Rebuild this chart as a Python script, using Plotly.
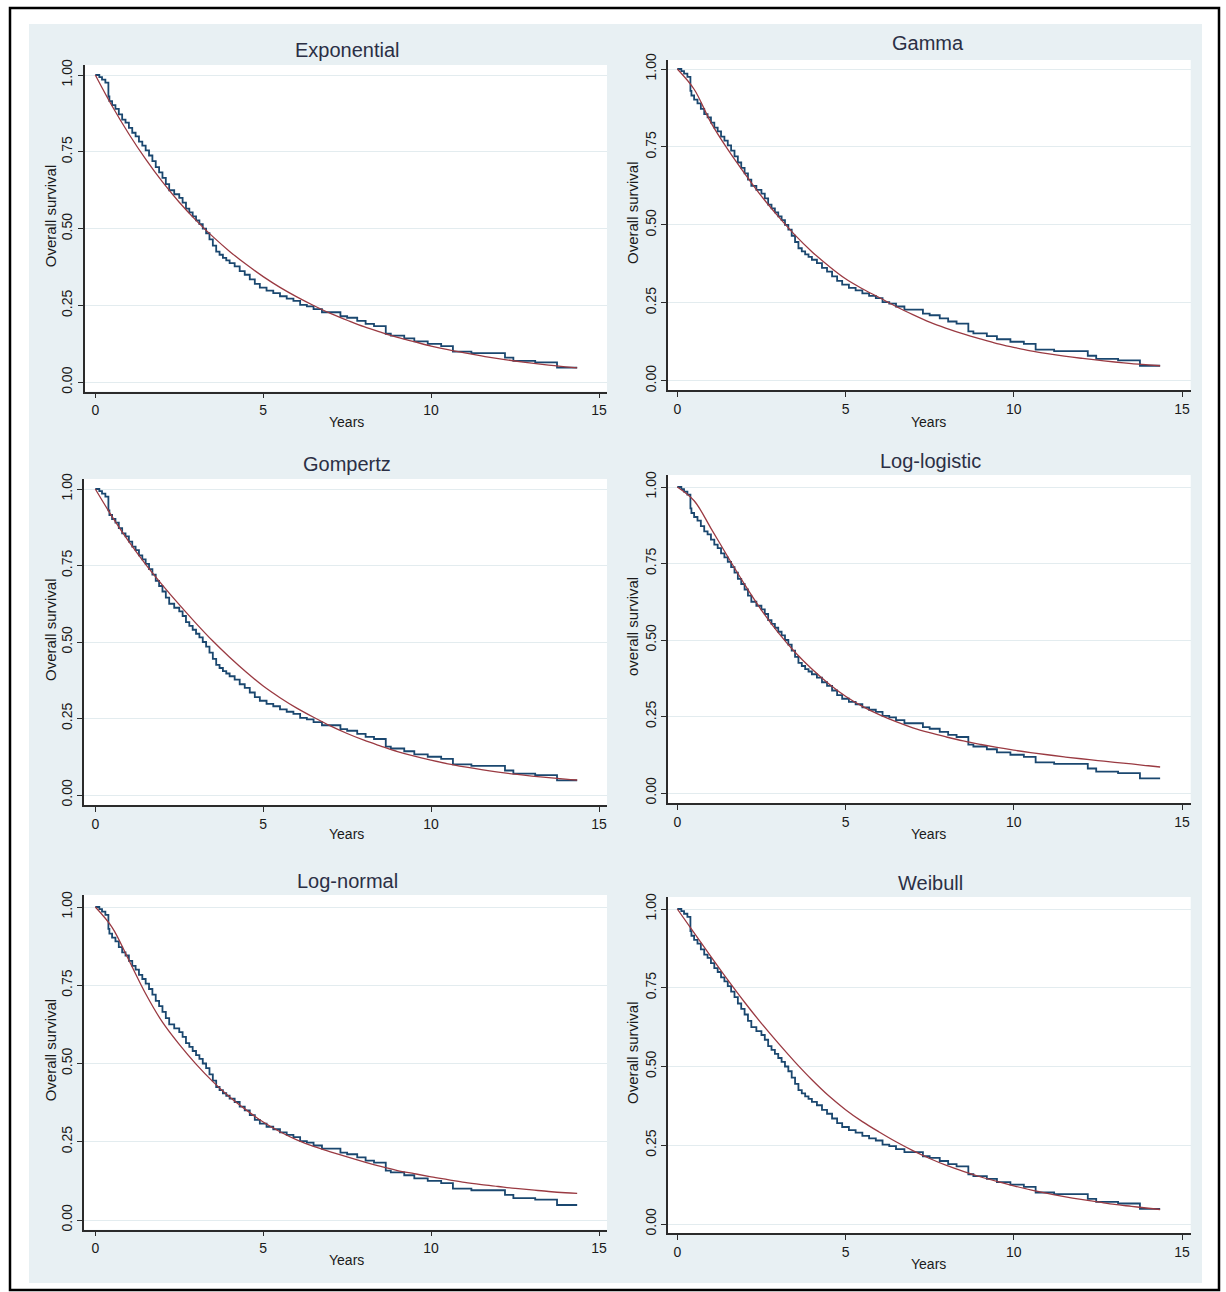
import plotly.graph_objects as go

W, H = 1226, 1292

# ---------------- data ----------------
# Kaplan-Meier estimate (same in every panel): step times (years) and survival after each step
km_time = [0, 0.12, 0.2, 0.3, 0.39, 0.42, 0.5, 0.6, 0.7, 0.8, 0.9, 1.0, 1.1, 1.2, 1.3, 1.4,
           1.5, 1.6, 1.7, 1.8, 1.9, 2.0, 2.1, 2.2, 2.35, 2.5, 2.6, 2.7, 2.8, 2.9, 3.0, 3.1,
           3.2, 3.3, 3.4, 3.5, 3.6, 3.7, 3.8, 3.9, 4.0, 4.15, 4.3, 4.45, 4.6, 4.75, 4.9,
           5.1, 5.3, 5.5, 5.7, 5.9, 6.1, 6.3, 6.5, 6.75, 7.3, 7.5, 7.8, 8.05, 8.3, 8.65,
           8.8, 9.2, 9.5, 9.9, 10.3, 10.65, 11.2, 12.2, 12.45, 13.1, 13.75, 14.35]
km_surv = [1.0, 0.993, 0.985, 0.975, 0.93, 0.915, 0.902, 0.89, 0.872, 0.855, 0.845, 0.828,
           0.812, 0.80, 0.783, 0.77, 0.755, 0.738, 0.72, 0.70, 0.683, 0.665, 0.645, 0.625,
           0.612, 0.60, 0.585, 0.565, 0.553, 0.54, 0.527, 0.515, 0.50, 0.485, 0.465, 0.445,
           0.425, 0.415, 0.405, 0.397, 0.388, 0.377, 0.362, 0.35, 0.335, 0.32, 0.308, 0.298,
           0.29, 0.28, 0.272, 0.265, 0.252, 0.247, 0.238, 0.228, 0.215, 0.21, 0.20, 0.19,
           0.183, 0.158, 0.152, 0.143, 0.133, 0.125, 0.118, 0.10, 0.095, 0.08, 0.07, 0.065,
           0.048, 0.048]

# fitted parametric survival curves
fit_time = [0, 0.5, 1, 1.5, 2, 2.5, 3, 3.5, 4, 4.5, 5, 5.5, 6, 6.5, 7, 7.5, 8, 8.5, 9, 9.5,
            10, 10.5, 11, 11.5, 12, 12.5, 13, 13.5, 14, 14.35]
exponential_fit = [1, 0.899, 0.808, 0.726, 0.652, 0.586, 0.527, 0.474, 0.426, 0.383, 0.344,
                   0.309, 0.278, 0.250, 0.224, 0.202, 0.181, 0.163, 0.146, 0.132, 0.118,
                   0.106, 0.0955, 0.0858, 0.0771, 0.0693, 0.0623, 0.056, 0.0503, 0.0467]
gamma_fit = [1, 0.935, 0.828, 0.742, 0.665, 0.592, 0.527, 0.467, 0.414, 0.368, 0.327,
             0.295, 0.267, 0.238, 0.212, 0.188, 0.168, 0.15, 0.134, 0.119, 0.107,
             0.096, 0.087, 0.079, 0.072, 0.066, 0.06, 0.055, 0.051, 0.048]
gompertz_fit = [1, 0.91, 0.828, 0.754, 0.686, 0.622, 0.561, 0.503, 0.45, 0.401, 0.356,
                0.318, 0.284, 0.254, 0.226, 0.201, 0.179, 0.16, 0.142, 0.127, 0.114,
                0.102, 0.092, 0.083, 0.075, 0.068, 0.062, 0.057, 0.052, 0.049]
loglogistic_fit = [1, 0.955, 0.865, 0.772, 0.682, 0.598, 0.524, 0.46, 0.405, 0.357, 0.316,
                   0.283, 0.256, 0.233, 0.213, 0.197, 0.183, 0.17, 0.159, 0.149, 0.14,
                   0.132, 0.125, 0.118, 0.112, 0.106, 0.1, 0.095, 0.089, 0.085]
lognormal_fit = [1, 0.935, 0.83, 0.723, 0.632, 0.561, 0.498, 0.442, 0.393, 0.351, 0.313,
                 0.282, 0.256, 0.235, 0.218, 0.202, 0.186, 0.171, 0.158, 0.148, 0.138,
                 0.129, 0.12, 0.113, 0.107, 0.101, 0.096, 0.091, 0.087, 0.085]
weibull_fit = [1, 0.924, 0.849, 0.775, 0.704, 0.637, 0.574, 0.514, 0.458, 0.407, 0.363,
               0.325, 0.292, 0.261, 0.233, 0.208, 0.186, 0.167, 0.15, 0.135, 0.121,
               0.108, 0.097, 0.087, 0.078, 0.07, 0.062, 0.056, 0.05, 0.046]

panel_titles = ["Exponential", "Gamma", "Gompertz", "Log-logistic", "Log-normal", "Weibull"]
y_titles = ["Overall survival", "Overall survival", "Overall survival",
            "overall survival", "Overall survival", "Overall survival"]
x_title = "Years"
x_ticks = [0, 5, 10, 15]
y_ticks = [0, 0.25, 0.5, 0.75, 1.0]
y_tick_labels = ["0.00", "0.25", "0.50", "0.75", "1.00"]

fits = [exponential_fit, gamma_fit, gompertz_fit, loglogistic_fit, lognormal_fit, weibull_fit]

# ---------------- layout geometry (pixels) ----------------
# left edge, x of 0 yrs, x of 15 yrs, right edge, top edge, y of 1.00, y of 0.00, bottom edge
boxes = [
    (84.5, 95.3, 599.0, 607.0, 65, 75, 382.3, 391.5),
    (668.0, 677.3, 1182.0, 1190.7, 60, 69, 380.7, 390.0),
    (84.0, 95.3, 599.0, 607.0, 479, 489, 795.0, 805.0),
    (668.0, 677.3, 1182.0, 1190.7, 475, 487, 793.0, 803.0),
    (84.0, 95.3, 599.0, 607.0, 895, 907, 1220.0, 1229.7),
    (668.0, 677.3, 1182.0, 1190.7, 897, 909, 1224.0, 1233.0),
]
title_pos = [(347, 50), (928, 43), (347, 464), (930, 461), (347, 881), (930, 883)]
years_pos = [(346, 422), (928, 422), (346, 834), (928, 834), (346, 1260), (928, 1264)]
ytitle_x = [50, 632, 50, 632, 50, 632]

BG = "#e8f0f3"
GRID = "#e3ecef"
KM_COLOR = "#1a476f"
FIT_COLOR = "#9a3a42"
FONT = "Liberation Sans, Arial, sans-serif"

fig = go.Figure()
annotations = []
shapes = [
    # bluish graph region
    dict(type="rect", xref="paper", yref="paper", x0=29 / W, x1=1202 / W,
         y0=1 - 1283 / H, y1=1 - 24 / H, fillcolor=BG, line=dict(width=0), layer="below"),
]


def px(x):
    return x / W


def py(y):
    return 1 - y / H


for i in range(6):
    left, x0, x15, right, top, y1, y0, bottom = boxes[i]
    ppy = (x15 - x0) / 15.0
    ppu = y0 - y1
    xr = [(left - x0) / ppy, (right - x0) / ppy]
    yr = [-(bottom - y0) / ppu, 1 + (y1 - top) / ppu]
    sfx = "" if i == 0 else str(i + 1)
    xa, ya = "x" + sfx, "y" + sfx

    # white plot area
    shapes.append(dict(type="rect", xref="paper", yref="paper", x0=px(left), x1=px(right),
                       y0=py(bottom), y1=py(top), fillcolor="white", line=dict(width=0),
                       layer="below"))

    fig.add_trace(go.Scatter(x=km_time, y=km_surv, mode="lines", line_shape="hv",
                             line=dict(color=KM_COLOR, width=1.8), xaxis=xa, yaxis=ya,
                             showlegend=False, hoverinfo="skip"))
    fig.add_trace(go.Scatter(x=fit_time, y=fits[i], mode="lines", line_shape="spline",
                             line=dict(color=FIT_COLOR, width=1.3), xaxis=xa, yaxis=ya,
                             showlegend=False, hoverinfo="skip"))

    axis_common = dict(showline=True, linecolor="#2b2b2b", linewidth=1.5, ticks="outside",
                       ticklen=5, tickwidth=1.3, tickcolor="#2b2b2b", zeroline=False,
                       automargin=False,
                       tickfont=dict(family=FONT, size=14, color="#1a1a1a"), fixedrange=True)
    fig.update_layout(**{
        ("xaxis" + sfx): dict(domain=[px(left), px(right)], range=xr, tickvals=x_ticks,
                              showgrid=False, anchor=ya, **axis_common),
        ("yaxis" + sfx): dict(domain=[py(bottom), py(top)], range=yr, tickvals=y_ticks,
                              ticktext=y_tick_labels, tickangle=-90, showgrid=True,
                              gridcolor=GRID, gridwidth=1.2, anchor=xa, **axis_common),
    })

    tx, ty = title_pos[i]
    annotations.append(dict(x=px(tx), y=py(ty), xref="paper", yref="paper", text=panel_titles[i],
                            showarrow=False, xanchor="center", yanchor="middle",
                            font=dict(family=FONT, size=20, color="#2b2f45")))
    yx, yy = years_pos[i]
    annotations.append(dict(x=px(yx), y=py(yy), xref="paper", yref="paper", text=x_title,
                            showarrow=False, xanchor="center", yanchor="middle",
                            font=dict(family=FONT, size=14, color="#1a1a1a")))
    annotations.append(dict(x=px(ytitle_x[i]), y=py((top + bottom) / 2 - 12), xref="paper",
                            yref="paper", text=y_titles[i], textangle=-90, showarrow=False,
                            xanchor="center", yanchor="middle",
                            font=dict(family=FONT, size=15, color="#1a1a1a")))

# outer black border
shapes.append(dict(type="rect", xref="paper", yref="paper", x0=px(10), x1=px(1219),
                   y0=py(1290), y1=py(8), line=dict(color="black", width=2.5),
                   fillcolor="rgba(0,0,0,0)", layer="above"))

fig.update_layout(width=W, height=H, margin=dict(l=0, r=0, t=0, b=0, autoexpand=False),
                  paper_bgcolor="white", plot_bgcolor="rgba(0,0,0,0)", showlegend=False,
                  annotations=annotations, shapes=shapes)

fig.write_html(
    "out.html",
    config={"displayModeBar": False},
    post_script=("document.body.style.margin='0';"
                 "document.body.style.overflow='hidden';"
                 "document.documentElement.style.overflow='hidden';"),
)
